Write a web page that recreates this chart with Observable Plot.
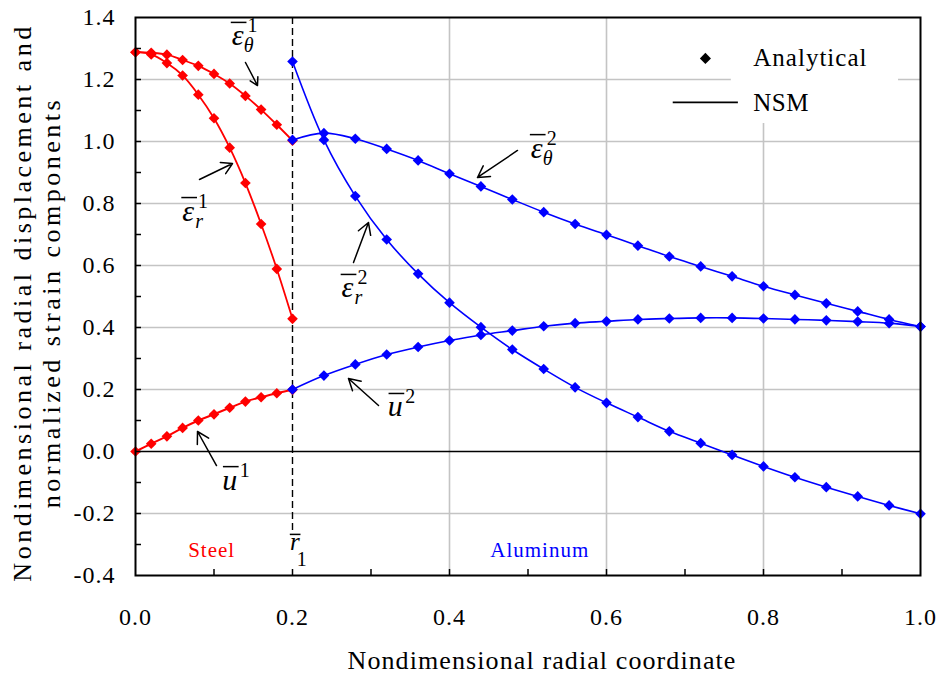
<!DOCTYPE html>
<html>
<head>
<meta charset="utf-8">
<script src="https://cdn.jsdelivr.net/npm/d3@7"></script>
<script src="https://cdn.jsdelivr.net/npm/@observablehq/plot@0.6"></script>
<style>
  html, body { margin: 0; padding: 0; background: white; }
  #chart svg { display: block; }
</style>
</head>
<body>
<div id="chart"></div>
<script>
// ---- data ----
const xSteel = [0, 0.02, 0.04, 0.06, 0.08, 0.10, 0.12, 0.14, 0.16, 0.18, 0.20];
const xAluminum = [0.20, 0.24, 0.28, 0.32, 0.36, 0.40, 0.44, 0.48, 0.52, 0.56, 0.60,
                   0.64, 0.68, 0.72, 0.76, 0.80, 0.84, 0.88, 0.92, 0.96, 1.00];

const epsTheta1 = [1.288, 1.286, 1.280, 1.263, 1.244, 1.218, 1.187, 1.147, 1.103, 1.054, 1.003];
const epsR1     = [1.288, 1.281, 1.253, 1.213, 1.151, 1.075, 0.980, 0.866, 0.734, 0.589, 0.428];
const u1        = [0.000, 0.025, 0.049, 0.076, 0.100, 0.120, 0.141, 0.161, 0.175, 0.188, 0.199];

const epsTheta2 = [1.005, 1.027, 1.009, 0.976, 0.939, 0.896, 0.855, 0.813, 0.772, 0.734, 0.699,
                   0.664, 0.629, 0.597, 0.565, 0.533, 0.505, 0.478, 0.452, 0.426, 0.403];
const u2        = [0.200, 0.245, 0.281, 0.313, 0.337, 0.358, 0.376, 0.390, 0.404, 0.414, 0.420,
                   0.426, 0.429, 0.431, 0.431, 0.429, 0.426, 0.423, 0.419, 0.414, 0.403];
const epsR2     = [1.258, 1.005, 0.824, 0.684, 0.573, 0.480, 0.401, 0.329, 0.266, 0.207, 0.157,
                   0.111, 0.065, 0.027, -0.011, -0.048, -0.083, -0.115, -0.145, -0.174, -0.201];

const steelColor = "#ff0000";
const aluminumColor = "#0000ff";

// tick values
const xLabelTicks = [0, 0.2, 0.4, 0.6, 0.8, 1.0];
const xMinorTicks = [0.1, 0.2, 0.3, 0.4, 0.5, 0.6, 0.7, 0.8, 0.9];
const yLabelTicks = [-0.4, -0.2, 0, 0.2, 0.4, 0.6, 0.8, 1.0, 1.2, 1.4];
const yMinorTicks = [-0.3, -0.2, -0.1, 0, 0.1, 0.2, 0.3, 0.4, 0.5, 0.6, 0.7, 0.8, 0.9, 1.0, 1.1, 1.2, 1.3];
const xGrid = [0.4, 0.6, 0.8];
const yGrid = [-0.2, 0.2, 0.4, 0.6, 0.8, 1.0, 1.2];
const interfaceR = 0.2;

// annotation symbols (position of base glyph, data units)
const symbolLabels = [
  {x: 0.130, y: 1.310, base: "ε", sup: "1", sub: "θ"},
  {x: 0.067, y: 0.745, base: "ε", sup: "1", sub: "r"},
  {x: 0.511, y: 0.948, base: "ε", sup: "2", sub: "θ"},
  {x: 0.270, y: 0.497, base: "ε", sup: "2", sub: "r"},
  {x: 0.331, y: 0.113, base: "u", sup: "2", sub: ""},
  {x: 0.120, y: -0.123, base: "u", sup: "1", sub: ""}
];
const arrows = [
  {x1: 0.1401, y1: 1.2548, x2: 0.1554, y2: 1.1806},
  {x1: 0.0815, y1: 0.8774, x2: 0.1236, y2: 0.9290},
  {x1: 0.4866, y1: 0.9710, x2: 0.4357, y2: 0.8839},
  {x1: 0.2777, y1: 0.6097, x2: 0.2968, y2: 0.7387},
  {x1: 0.3096, y1: 0.1484, x2: 0.2713, y2: 0.2355},
  {x1: 0.1032, y1: -0.0452, x2: 0.0790, y2: 0.0645}
];
const rLabel = [{x: 0.2030, y: -0.319, base: "r", sub: "1"}];
const materialLabels = [
  {x: 0.097, y: -0.339, text: "Steel", color: steelColor},
  {x: 0.515, y: -0.339, text: "Aluminum", color: aluminumColor}
];

// legend
const legendBox = [{x1: 0.759, x2: 0.972, y1: 1.058, y2: 1.398}];
const legendMarker = [{x: 0.726, y: 1.268}];
const legendLine = [{x1: 0.685, x2: 0.768, y: 1.126}];
const legendTexts = [
  {x: 0.787, y: 1.242, text: "Analytical"},
  {x: 0.787, y: 1.100, text: "NSM"}
];

const xTitle = "Nondimensional radial coordinate";
const yTitleLines = ["Nondimensional radial displacement and", "normalized strain components"];

// overbar half widths (x units) for the annotation symbols
const barHalfWide = 0.0100;
const barHalfNarrow = 0.0068;

// ---- build table ----
const series = [
  {name: "epsTheta1", xs: xSteel, ys: epsTheta1, color: steelColor, w: 1.8},
  {name: "epsR1", xs: xSteel, ys: epsR1, color: steelColor, w: 1.8},
  {name: "u1", xs: xSteel, ys: u1, color: steelColor, w: 2},
  {name: "epsTheta2", xs: xAluminum, ys: epsTheta2, color: aluminumColor, w: 1.6},
  {name: "u2", xs: xAluminum, ys: u2, color: aluminumColor, w: 1.6},
  {name: "epsR2", xs: xAluminum, ys: epsR2, color: aluminumColor, w: 1.6}
];
const rowsOf = s => s.xs.map((x, i) => ({x, y: s.ys[i]}));

const serif = "'Liberation Serif', 'Times New Roman', serif";
const italic = {fontStyle: "italic", fontFamily: serif};

const chart = Plot.plot({
  width: 940,
  height: 675,
  marginLeft: 135,
  marginRight: 20,
  marginTop: 17,
  marginBottom: 100,
  x: {domain: [0, 1]},
  y: {domain: [-0.4, 1.4]},
  style: {fontFamily: serif, background: "white", color: "black", overflow: "visible"},
  marks: [
    Plot.ruleY(yGrid, {stroke: "#c4c4c4", strokeWidth: 1.6}),
    Plot.ruleX(xGrid, {stroke: "#c4c4c4", strokeWidth: 1.6}),
    Plot.ruleY([0], {stroke: "black", strokeWidth: 1.6}),
    Plot.ruleX([interfaceR], {y1: -0.255, y2: 1.4, stroke: "black", strokeWidth: 1.4, strokeDasharray: "7,4"}),
    Plot.rect(legendBox, {x1: "x1", x2: "x2", y1: "y1", y2: "y2", fill: "white"}),
    ...series.map(s => Plot.line(rowsOf(s), {x: "x", y: "y", stroke: s.color, strokeWidth: s.w, curve: "catmull-rom"})),
    ...series.map(s => Plot.dot(rowsOf(s), {x: "x", y: "y", symbol: "diamond2", r: 4.8, fill: s.color, stroke: "none"})),
    Plot.frame({stroke: "black", strokeWidth: 2}),
    Plot.axisY(yLabelTicks, {anchor: "left", tickSize: 0, tickPadding: 20, fontSize: 24, tickFormat: d => d.toFixed(1), label: null}),
    Plot.axisY(yMinorTicks, {anchor: "left", tickSize: 6, dx: 6, text: null, label: null, strokeWidth: 1.5}),
    Plot.axisX(xLabelTicks, {anchor: "bottom", tickSize: 0, tickPadding: 32, fontSize: 24, tickFormat: d => d.toFixed(1), label: null}),
    Plot.axisX(xMinorTicks, {anchor: "bottom", tickSize: 6, dy: -6, text: null, label: null, strokeWidth: 1.5}),
    // legend
    Plot.dot(legendMarker, {x: "x", y: "y", symbol: "diamond2", r: 5, fill: "black"}),
    Plot.ruleY(legendLine, {x1: "x1", x2: "x2", y: "y", stroke: "black", strokeWidth: 1.8}),
    Plot.text(legendTexts, {x: "x", y: "y", text: "text", textAnchor: "start", lineAnchor: "bottom", fontSize: 25}),
    // arrows
    Plot.arrow(arrows, {x1: "x1", y1: "y1", x2: "x2", y2: "y2", stroke: "black", strokeWidth: 1.5, headLength: 13, headAngle: 60}),
    // symbol labels
    Plot.text(symbolLabels, {x: "x", y: "y", text: "base", lineAnchor: "bottom", fontSize: 30, ...italic}),
    Plot.ruleY(symbolLabels, {x1: d => d.x - barHalfWide + 0.002, x2: d => d.x + barHalfWide + 0.002, y: "y", dy: -23, stroke: "black", strokeWidth: 1.5}),
    Plot.text(symbolLabels, {x: "x", y: "y", text: "sup", lineAnchor: "bottom", fontSize: 20, dx: 15, dy: -13}),
    Plot.text(symbolLabels, {x: "x", y: "y", text: "sub", lineAnchor: "bottom", fontSize: 20, dx: 11, dy: 7, ...italic}),
    Plot.text(rLabel, {x: "x", y: "y", text: "base", lineAnchor: "bottom", fontSize: 25, ...italic}),
    Plot.ruleY(rLabel, {x1: d => d.x - barHalfNarrow + 0.001, x2: d => d.x + barHalfNarrow + 0.001, y: "y", dy: -16, stroke: "black", strokeWidth: 1.5}),
    Plot.text(rLabel, {x: "x", y: "y", text: "sub", lineAnchor: "bottom", fontSize: 20, dx: 7, dy: 16}),
    Plot.text(materialLabels, {x: "x", y: "y", text: "text", fill: "color", lineAnchor: "bottom", fontSize: 21}),
    // titles
    Plot.text([xTitle], {frameAnchor: "bottom", textAnchor: "middle", dx: 14, dy: 93, lineAnchor: "bottom", fontSize: 26}),
    Plot.text([yTitleLines.join("\n")], {frameAnchor: "left", textAnchor: "middle", rotate: -90, dx: -99, dy: 6, lineAnchor: "middle", lineHeight: 1.08, fontSize: 26})
  ]
});

// letter spacing to mimic the reference's wide text setting
const spacing = new Map([
  [xTitle, "1.1px"],
  ["Analytical", "1px"],
  ["NSM", "0.5px"],
  ["Steel", "1px"],
  ["Aluminum", "1px"]
]);
d3.select(chart).selectAll("text").each(function() {
  const t = this.textContent;
  if (spacing.has(t)) this.style.letterSpacing = spacing.get(t);
  else if (t.startsWith(yTitleLines[0])) this.style.letterSpacing = "3.5px";
  else if (/^-?\d\.\d$/.test(t)) this.style.letterSpacing = "1px";
});
document.getElementById("chart").appendChild(chart);
</script>
</body>
</html>
